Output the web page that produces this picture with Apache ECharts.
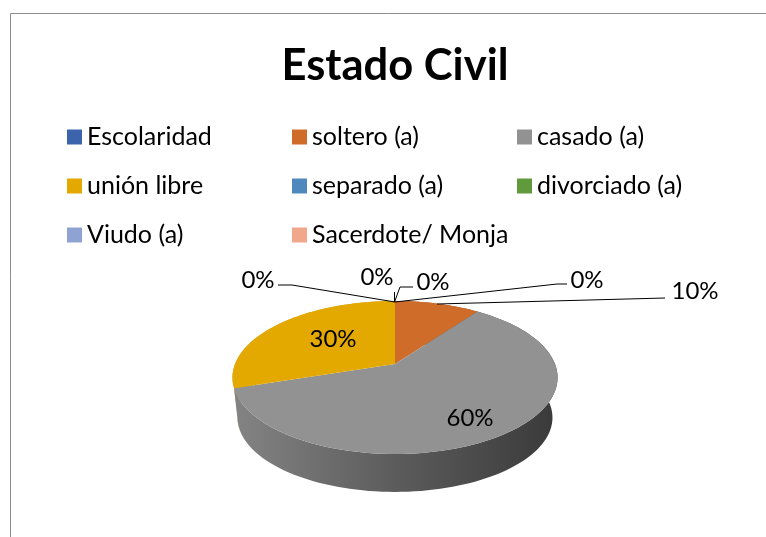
<!DOCTYPE html>
<html>
<head>
<meta charset="utf-8">
<title>Estado Civil</title>
<style>
  html, body { margin: 0; padding: 0; background: #fff; }
  #chart { width: 766px; height: 537px; }
</style>
</head>
<body>
<div id="chart"></div>
<script src="https://cdn.jsdelivr.net/npm/echarts@6/dist/echarts.min.js"></script>
<script>
  const categories = ['Escolaridad', 'soltero (a)', 'casado (a)', 'unión libre', 'separado (a)', 'divorciado (a)', 'Viudo (a)', 'Sacerdote/ Monja']
  const values = [null, 10, 60, 30, 0, 0, 0, 0]
  const colors = ['#3c64ac', '#d06c2a', '#929292', '#e3a900', '#4f88bc', '#609a3c', '#8fa2d4', '#f1a78a']
  const legendColumns = [[0, 3, 6], [1, 4, 7], [2, 5]]
  const legendLefts = [62, 287, 512]

  // where each percent goes, and its leader line if it has one
  const labelPlaces = [
    null,
    { at: [695, 291], line: [[437, 304], [665, 298]] },
    { at: [470, 418] },
    { at: [333, 339] },
    { at: [258, 280], line: [[395, 302], [292, 285], [278, 285]] },
    { at: [377, 277], line: [[394.5, 302], [394.5, 292]] },
    { at: [433, 282], line: [[394.5, 302], [400, 287], [413, 287]] },
    { at: [587, 280], line: [[395, 302], [557, 284], [567, 284]] }
  ]

  const fontFamily = 'Lato'
  const total = values.reduce((a, b) => a + (b || 0), 0)

  // the pie is tilted: flat circle -> screen, with a little perspective
  const tilt = 0.1765
  const upperDisc = { x: 395, y: 364, a: 160, b: 74.1 }
  const lowerDisc = { x: 395, y: 404.5, a: 155, b: 72 }
  // the gray wall runs a bit further round at the bottom, gold only shows as a sliver
  const grayWallLap = 6

  function project(disc, deg) {
    const r = deg * Math.PI / 180
    const u = Math.sin(r)
    const v = -Math.cos(r)
    const w = 1 - tilt * v
    return [disc.x + disc.a * u / w, disc.y + disc.b * v / w]
  }

  function arc(disc, from, to) {
    const pts = []
    const steps = Math.max(1, Math.ceil((to - from) / 2))
    for (let i = 0; i <= steps; i++) {
      pts.push(project(disc, from + (to - from) * i / steps))
    }
    return pts
  }

  function wallFill(index) {
    if (index === 2) {
      return new echarts.graphic.LinearGradient(232, 0, 557, 0, [
        { offset: 0, color: '#848484' },
        { offset: 0.5, color: '#5c5c5c' },
        { offset: 1, color: '#3a3a3a' }
      ], true)
    }
    return index === 3 ? '#cfa93a' : '#8a4a1c'
  }

  function renderSlice(index) {
    return function (params, api) {
      const value = api.value(0)
      const children = []
      if (isNaN(value)) {
        return { type: 'group', children }
      }
      const before = values.slice(0, index).reduce((a, b) => a + (b || 0), 0)
      const from = before / total * 360
      const to = (before + value) / total * 360
      if (value > 0) {
        const lap = index === 2 ? grayWallLap : 0
        children.push({
          type: 'polygon',
          z2: index === 2 ? 1.5 : 1,
          shape: { points: arc(upperDisc, from, to).concat(arc(lowerDisc, from, to + lap).reverse()) },
          style: { fill: wallFill(index) }
        })
        children.push({
          type: 'polygon',
          z2: 2,
          shape: { points: [[upperDisc.x, upperDisc.y]].concat(arc(upperDisc, from, to)) },
          style: { fill: colors[index] }
        })
      }
      const place = labelPlaces[index]
      if (place.line) {
        children.push({
          type: 'polyline',
          z2: 3,
          shape: { points: place.line },
          style: { stroke: '#000', lineWidth: 1, fill: null }
        })
      }
      children.push({
        type: 'text',
        z2: 4,
        x: place.at[0],
        y: place.at[1],
        style: {
          text: Math.round(value / total * 100) + '%',
          fill: '#000',
          font: '24px ' + fontFamily,
          align: 'center',
          verticalAlign: 'middle'
        }
      })
      return { type: 'group', children }
    }
  }

  const chart = echarts.init(document.getElementById('chart'), null, { renderer: 'canvas' })

  chart.setOption({
    animation: false,
    backgroundColor: '#fff',
    title: {
      text: 'Estado Civil',
      left: 395,
      top: 44,
      textAlign: 'center',
      padding: 0,
      textStyle: { fontFamily, fontSize: 43.5, fontWeight: 'bold', color: '#000' }
    },
    legend: legendColumns.map((col, i) => ({
      orient: 'vertical',
      left: legendLefts[i],
      top: 119.5,
      icon: 'rect',
      itemWidth: 15,
      itemHeight: 15,
      itemGap: 24,
      selectedMode: false,
      data: col.map(k => categories[k]),
      textStyle: { fontFamily, fontSize: 25, lineHeight: 24, color: '#000' }
    })),
    graphic: {
      elements: [{
        type: 'polyline',
        silent: true,
        shape: { points: [[10.5, 537], [10.5, 13.5], [766, 13.5]] },
        style: { stroke: '#8c8c8c', lineWidth: 1, fill: null }
      }]
    },
    series: categories.map((name, i) => ({
      type: 'custom',
      name,
      coordinateSystem: 'none',
      silent: true,
      itemStyle: { color: colors[i] },
      data: [[values[i] === null ? NaN : values[i]]],
      renderItem: renderSlice(i)
    }))
  })
</script>
</body>
</html>
